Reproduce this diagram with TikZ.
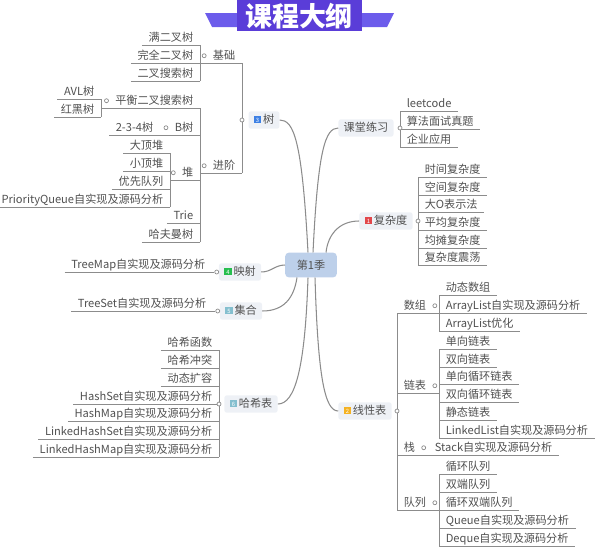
\documentclass[tikz,border=0pt]{standalone}
\usepackage{fontspec}
\setmainfont{Noto Sans CJK SC}
\usetikzlibrary{calc}
\definecolor{cInk}{HTML}{505050}
\definecolor{cLine}{HTML}{8C8C8C}
\definecolor{cBox}{HTML}{EEF1F6}
\definecolor{cHub}{HTML}{BDD0EA}
\definecolor{cBanner}{HTML}{5A3DD8}
\definecolor{cWing}{HTML}{6C5CEB}
\definecolor{cRed}{HTML}{E2474B}
\definecolor{cOrange}{HTML}{F4B223}
\definecolor{cBlue}{HTML}{3D80E4}
\definecolor{cGreen}{HTML}{27BE4F}
\definecolor{cTeal}{HTML}{84BFCF}

% small numbered tag in front of a main topic
\newcommand{\numtag}[2]{\raisebox{0.8pt}{\fboxsep=0.9pt\colorbox{#1}{\makebox[4.6pt]{\rule{0pt}{4.6pt}\fontsize{5}{5}\selectfont\color{white}#2}}}\hspace{1.5pt}}

\begin{document}
\begin{tikzpicture}[
  x=0.03cm, y=-0.03cm,
  font=\fontsize{9.5}{11}\selectfont,
  ln/.style={draw=cLine, line width=.7pt},
  curve/.style={draw=cLine, line width=.9pt},
  leaf/.style={text=cInk, inner xsep=5.6pt, inner ysep=1.2pt, text height=7.6pt, text depth=2pt,
               append after command={(\tikzlastnode.south west) edge[ln] (\tikzlastnode.south east)}},
  rleaf/.style={leaf, anchor=south west},
  lleaf/.style={leaf, anchor=south east},
  topic/.style={fill=cBox, text=cInk, rounded corners=2pt, inner xsep=4.5pt, inner ysep=2.6pt,
                text height=7.6pt, text depth=2pt},
  hub/.style={fill=cHub, text=cInk, rounded corners=3pt, minimum width=44pt, minimum height=21pt},
  dot/.style={circle, draw=cLine, fill=white, line width=.6pt, inner sep=0pt, minimum size=3.4pt},
]
\useasboundingbox (0,0) rectangle (600,553);

% ---------------- banner ----------------
\fill[cWing] (205,13) -- (394,13) -- (387,27) -- (212,27) -- cycle;
\fill[cBanner] (237,0) rectangle (362,31);
\node[font=\fontsize{23}{23}\selectfont\bfseries, text=white] (title) at (299,16) {课程大纲};

% ---------------- hub and main topics ----------------
\node[hub] (hub) at (311,265) {第1季};

\node[topic] (shu) at (264,120) {\numtag{cBlue}{3}树};
\node[topic] (ys)  at (240,272) {\numtag{cGreen}{4}映射};
\node[topic] (jh)  at (241,311) {\numtag{cTeal}{5}集合};
\node[topic] (hxb) at (251,404) {\numtag{cTeal}{6}哈希表};
\node[topic] (kt)  at (366,128) {课堂练习};
\node[topic] (fzd) at (386,221) {\numtag{cRed}{1}复杂度};
\node[topic] (xxb) at (365,411) {\numtag{cOrange}{2}线性表};

\draw[curve] ($(hub.north)+(-3,0)$) .. controls +(-6,-113) and +(14,0) .. (shu.east);
\draw[curve] ($(hub.north)+(2,0)$) .. controls +(5,-103) and +(-13,0) .. (kt.west);
\draw[curve] ($(hub.north)+(15,0)$) .. controls +(2,-18) and +(-20,0) .. (fzd.west);
\draw[curve] (hub.west) .. controls +(-10,0) and +(10,0) .. (ys.east);
\draw[curve] ($(hub.south)+(-14,0)$) .. controls +(-3,20) and +(22,0) .. (jh.east);
\draw[curve] ($(hub.south)+(-3,0)$) .. controls +(-3,92) and +(17,0) .. (hxb.east);
\draw[curve] ($(hub.south)+(4,0)$) .. controls +(3,102) and +(-13,0) .. (xxb.west);

% ---------------- 树 ----------------
\node[lleaf] (jc) at (242,63) {基础};
\node[lleaf] (jj) at (242,173) {进阶};
\draw[ln] (jc.south east) -- (jj.south east);
\node[dot] at (jc.south east |- shu.west) {};

\node[lleaf] (mbecs) at (200,45) {满二叉树};
\node[lleaf] (wqecs) at (200,63) {完全二叉树};
\node[lleaf] (ecsss) at (200,81) {二叉搜索树};
\draw[ln] (mbecs.south east) -- (ecsss.south east);
\draw[ln] (jc.south west) -- (jc.south west -| mbecs.south east);
\node[dot] at ($(jc.west)+(-2,0)$) {};

\node[lleaf] (phecs) at (200,108) {平衡二叉搜索树};
\node[lleaf] (bs)    at (200,135) {B树};
\node[lleaf] (dui)   at (200,180) {堆};
\node[lleaf] (trie)  at (200,223) {Trie};
\node[lleaf] (hfms)  at (200,242) {哈夫曼树};
\draw[ln] (phecs.south east) -- (hfms.south east);
\draw[ln] (jj.south west) -- (jj.south west -| phecs.south east);
\node[dot] at ($(jj.west)+(-2,0)$) {};

\node[lleaf] (avl) at (101,99) {AVL树};
\node[lleaf] (hhs) at (101,117) {红黑树};
\draw[ln] (avl.south east) -- (hhs.south east);
\draw[ln] (phecs.south west) -- (phecs.south west -| avl.south east);
\node[dot] at ($(phecs.west)+(-2,0)$) {};

\node[lleaf] (tth) at (160,135) {2-3-4树};
\draw[ln] (bs.south west) -- (tth.south east);
\node[dot] at ($(bs.west)+(-2,0)$) {};

\node[lleaf] (ddd)  at (170,153) {大顶堆};
\node[lleaf] (xdd)  at (170,171) {小顶堆};
\node[lleaf] (yxdl) at (170,189) {优先队列};
\node[lleaf] (pq)   at (170,207) {PriorityQueue自实现及源码分析};
\draw[ln] (ddd.south east) -- (pq.south east);
\draw[ln] (dui.south west) -- (dui.south west -| ddd.south east);
\node[dot] at ($(dui.west)+(-2,0)$) {};

% ---------------- 映射 / 集合 ----------------
\node[dot] (ysd) at ($(ys.west)+(-2,0)$) {};
\node[lleaf] (tm) at (212,272) {TreeMap自实现及源码分析};
\draw[ln] (tm.south east) -- (ysd.west);

\node[dot] (jhd) at ($(jh.west)+(-2,0)$) {};
\node[lleaf] (tset) at (213,311) {TreeSet自实现及源码分析};
\draw[ln] (tset.south east) -- (jhd.west);

% ---------------- 哈希表 ----------------
\node[lleaf] (hxhs) at (219,350) {哈希函数};
\node[lleaf] (hxct) at (219,368) {哈希冲突};
\node[lleaf] (dtkr) at (219,386) {动态扩容};
\node[lleaf] (hset) at (219,404) {HashSet自实现及源码分析};
\node[lleaf] (hmap) at (219,421) {HashMap自实现及源码分析};
\node[lleaf] (lhs)  at (219,439) {LinkedHashSet自实现及源码分析};
\node[lleaf] (lhm)  at (219,457) {LinkedHashMap自实现及源码分析};
\draw[ln] (hxhs.south east) -- (lhm.south east);
\node[dot] at (hxhs.south east |- hxb.west) {};

% ---------------- 课堂练习 ----------------
\node[rleaf] (lc)   at (400,111) {leetcode};
\node[rleaf] (sfms) at (400,129) {算法面试真题};
\node[rleaf] (qyyy) at (400,147) {企业应用};
\draw[ln] (lc.south west) -- (qyyy.south west);
\node[dot] at (lc.south west |- kt.east) {};

% ---------------- 复杂度 ----------------
\node[rleaf] (sjfzd) at (418,177) {时间复杂度};
\node[rleaf] (kjfzd) at (418,195) {空间复杂度};
\node[rleaf] (dobsf) at (418,212) {大O表示法};
\node[rleaf] (pjfzd) at (418,230) {平均复杂度};
\node[rleaf] (jtfzd) at (418,248) {均摊复杂度};
\node[rleaf] (fzdzd) at (418,265) {复杂度震荡};
\draw[ln] (sjfzd.south west) -- (fzdzd.south west);
\node[dot] at (sjfzd.south west |- fzd.east) {};

% ---------------- 线性表 ----------------
\node[rleaf] (sz)   at (397,313) {数组};
\node[rleaf] (lb)   at (397,393) {链表};
\node[rleaf] (zhan) at (397,455) {栈};
\node[rleaf] (dl)   at (397,510) {队列};
\draw[ln] (sz.south west) -- (dl.south west);
\node[dot] at (sz.south west |- xxb.east) {};

\node[rleaf] (dtsz) at (439,295) {动态数组};
\node[rleaf] (alzs) at (439,313) {ArrayList自实现及源码分析};
\node[rleaf] (alyh) at (439,331) {ArrayList优化};
\draw[ln] (dtsz.south west) -- (alyh.south west);
\draw[ln] (sz.south east) -- (sz.south east -| dtsz.south west);
\node[dot] at ($(sz.east)+(2,0)$) {};

\node[rleaf] (dxlb) at (439,349) {单向链表};
\node[rleaf] (sxlb) at (439,367) {双向链表};
\node[rleaf] (dxxh) at (439,384) {单向循环链表};
\node[rleaf] (sxxh) at (439,402) {双向循环链表};
\node[rleaf] (jtlb) at (439,420) {静态链表};
\node[rleaf] (llst) at (439,438) {LinkedList自实现及源码分析};
\draw[ln] (dxlb.south west) -- (llst.south west);
\draw[ln] (lb.south east) -- (lb.south east -| dxlb.south west);
\node[dot] at ($(lb.east)+(2,0)$) {};

\node[rleaf] (stk) at (428,455) {Stack自实现及源码分析};
\draw[ln] (zhan.south east) -- (stk.south west);
\node[dot] at ($(zhan.east)+(2,0)$) {};

\node[rleaf] (xhdl) at (439,474) {循环队列};
\node[rleaf] (sddl) at (439,492) {双端队列};
\node[rleaf] (xhsd) at (439,510) {循环双端队列};
\node[rleaf] (que)  at (439,528) {Queue自实现及源码分析};
\node[rleaf] (deq)  at (439,546) {Deque自实现及源码分析};
\draw[ln] (xhdl.south west) -- (deq.south west);
\draw[ln] (dl.south east) -- (dl.south east -| xhdl.south west);
\node[dot] at ($(dl.east)+(2,0)$) {};

\end{tikzpicture}
\end{document}
